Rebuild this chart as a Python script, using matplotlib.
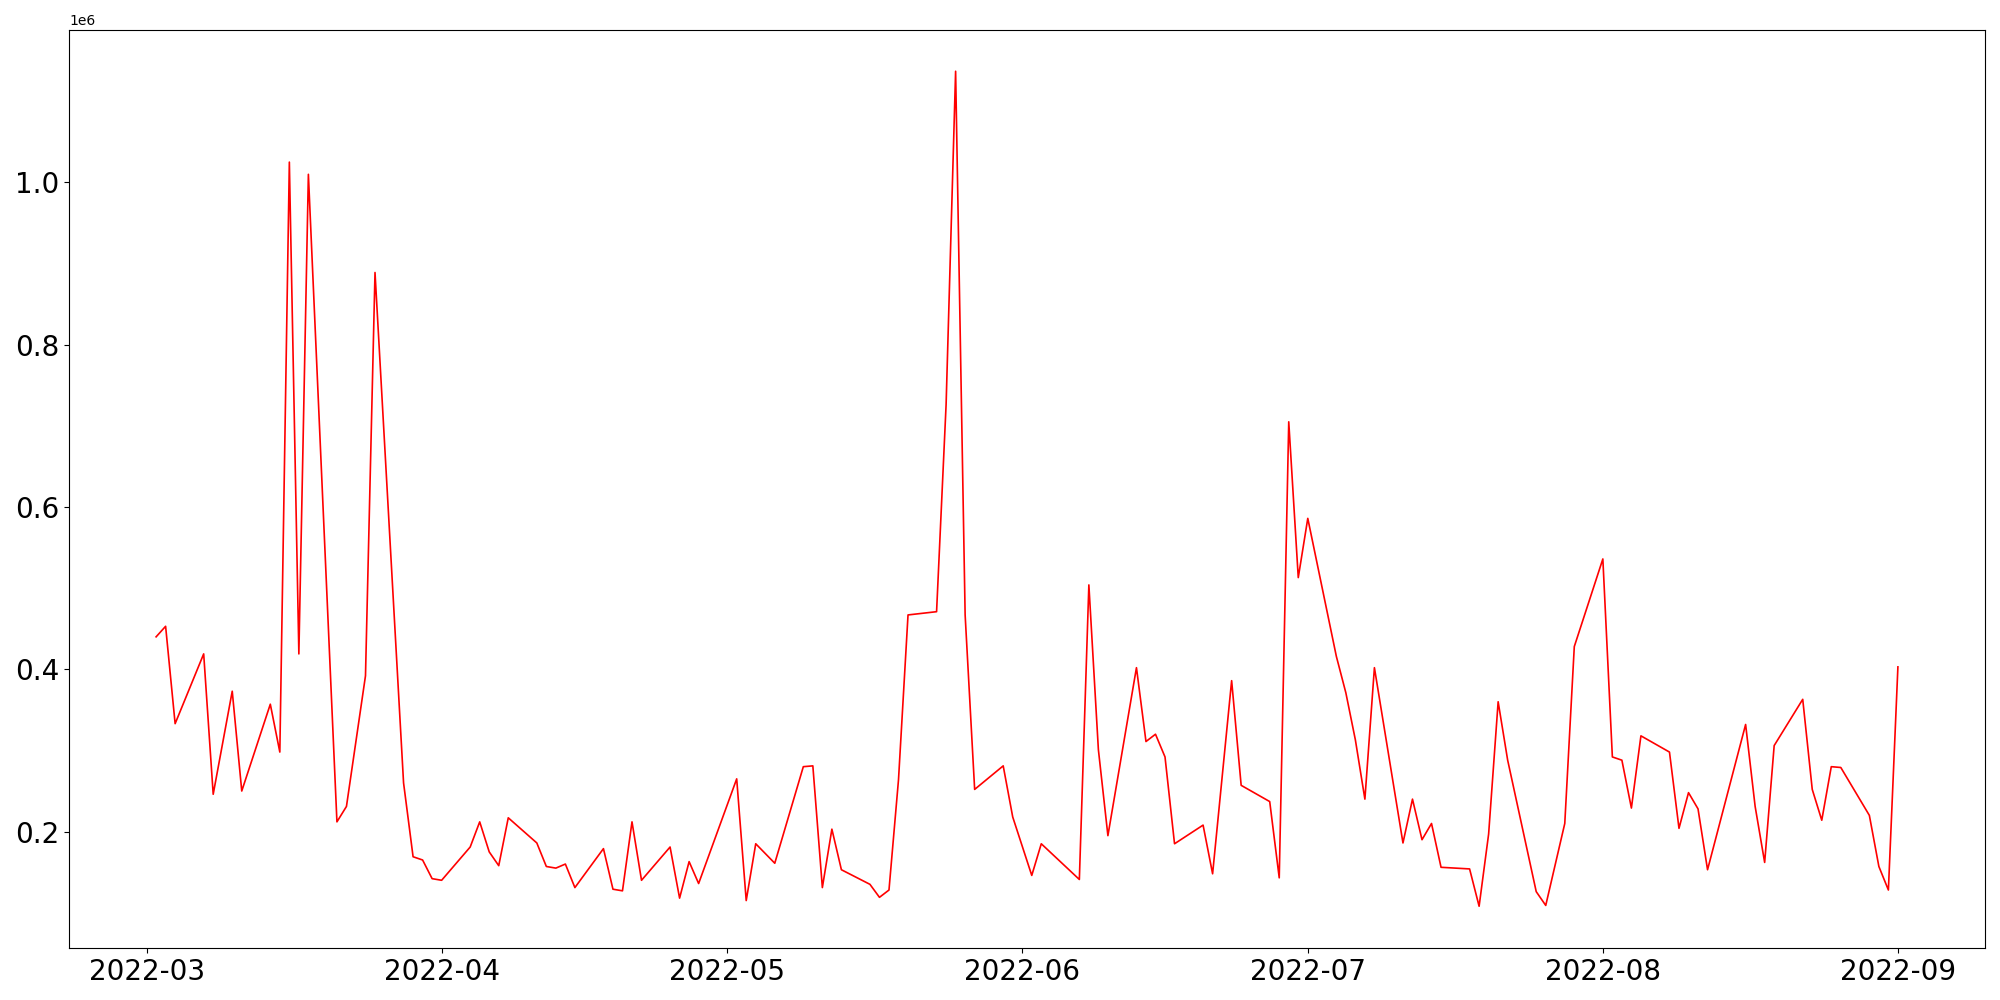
import matplotlib
matplotlib.use("Agg")
import matplotlib.pyplot as plt
import pandas as pd

# daily values (weekdays, some days missing)
dates = [
    "2022-03-02", "2022-03-03", "2022-03-04", "2022-03-07", "2022-03-08",
    "2022-03-10", "2022-03-11", "2022-03-14", "2022-03-15", "2022-03-16",
    "2022-03-17", "2022-03-18", "2022-03-21", "2022-03-22", "2022-03-24",
    "2022-03-25", "2022-03-28", "2022-03-29", "2022-03-30", "2022-03-31",
    "2022-04-01", "2022-04-04", "2022-04-05", "2022-04-06", "2022-04-07",
    "2022-04-08", "2022-04-11", "2022-04-12", "2022-04-13", "2022-04-14",
    "2022-04-15", "2022-04-18", "2022-04-19", "2022-04-20", "2022-04-21",
    "2022-04-22", "2022-04-25", "2022-04-26", "2022-04-27", "2022-04-28",
    "2022-05-02", "2022-05-03", "2022-05-04", "2022-05-06", "2022-05-09",
    "2022-05-10", "2022-05-11", "2022-05-12", "2022-05-13", "2022-05-16",
    "2022-05-17", "2022-05-18", "2022-05-19", "2022-05-20", "2022-05-23",
    "2022-05-24", "2022-05-25", "2022-05-26", "2022-05-27", "2022-05-30",
    "2022-05-31", "2022-06-02", "2022-06-03", "2022-06-07", "2022-06-08",
    "2022-06-09", "2022-06-10", "2022-06-13", "2022-06-14", "2022-06-15",
    "2022-06-16", "2022-06-17", "2022-06-20", "2022-06-21", "2022-06-23",
    "2022-06-24", "2022-06-27", "2022-06-28", "2022-06-29", "2022-06-30",
    "2022-07-01", "2022-07-04", "2022-07-05", "2022-07-06", "2022-07-07",
    "2022-07-08", "2022-07-11", "2022-07-12", "2022-07-13", "2022-07-14",
    "2022-07-15", "2022-07-18", "2022-07-19", "2022-07-20", "2022-07-21",
    "2022-07-22", "2022-07-25", "2022-07-26", "2022-07-28", "2022-07-29",
    "2022-08-01", "2022-08-02", "2022-08-03", "2022-08-04", "2022-08-05",
    "2022-08-08", "2022-08-09", "2022-08-10", "2022-08-11", "2022-08-12",
    "2022-08-16", "2022-08-17", "2022-08-18", "2022-08-19", "2022-08-22",
    "2022-08-23", "2022-08-24", "2022-08-25", "2022-08-26", "2022-08-29",
    "2022-08-30", "2022-08-31", "2022-09-01",
]

# values in millions
values_m = [
    0.440, 0.453, 0.333, 0.419, 0.246,
    0.373, 0.250, 0.357, 0.298, 1.025,
    0.419, 1.010, 0.212, 0.231, 0.392,
    0.889, 0.260, 0.169, 0.165, 0.142,
    0.140, 0.181, 0.212, 0.175, 0.158,
    0.217, 0.186, 0.157, 0.155, 0.160,
    0.131, 0.179, 0.129, 0.127, 0.212,
    0.140, 0.181, 0.118, 0.163, 0.136,
    0.265, 0.115, 0.185, 0.161, 0.280,
    0.281, 0.131, 0.203, 0.153, 0.135,
    0.119, 0.128, 0.264, 0.467, 0.471,
    0.726, 1.137, 0.467, 0.252, 0.281,
    0.218, 0.146, 0.185, 0.141, 0.504,
    0.301, 0.195, 0.402, 0.311, 0.320,
    0.292, 0.185, 0.208, 0.148, 0.386,
    0.257, 0.237, 0.143, 0.705, 0.513,
    0.586, 0.416, 0.371, 0.313, 0.240,
    0.402, 0.186, 0.240, 0.190, 0.210,
    0.156, 0.154, 0.108, 0.197, 0.360,
    0.288, 0.126, 0.109, 0.210, 0.428,
    0.536, 0.292, 0.288, 0.229, 0.318,
    0.298, 0.204, 0.248, 0.228, 0.153,
    0.332, 0.231, 0.162, 0.306, 0.363,
    0.252, 0.214, 0.280, 0.279, 0.220,
    0.157, 0.128, 0.403,
]

x = pd.to_datetime(dates)
y = [v * 1e6 for v in values_m]

fig, ax = plt.subplots(figsize=(20, 10), dpi=100)
ax.plot(x, y, color="red", linewidth=1.2)
ax.tick_params(axis="both", labelsize=20)
fig.subplots_adjust(left=0.0345, right=0.9925, bottom=0.052, top=0.9705)
fig.savefig("out.png")
